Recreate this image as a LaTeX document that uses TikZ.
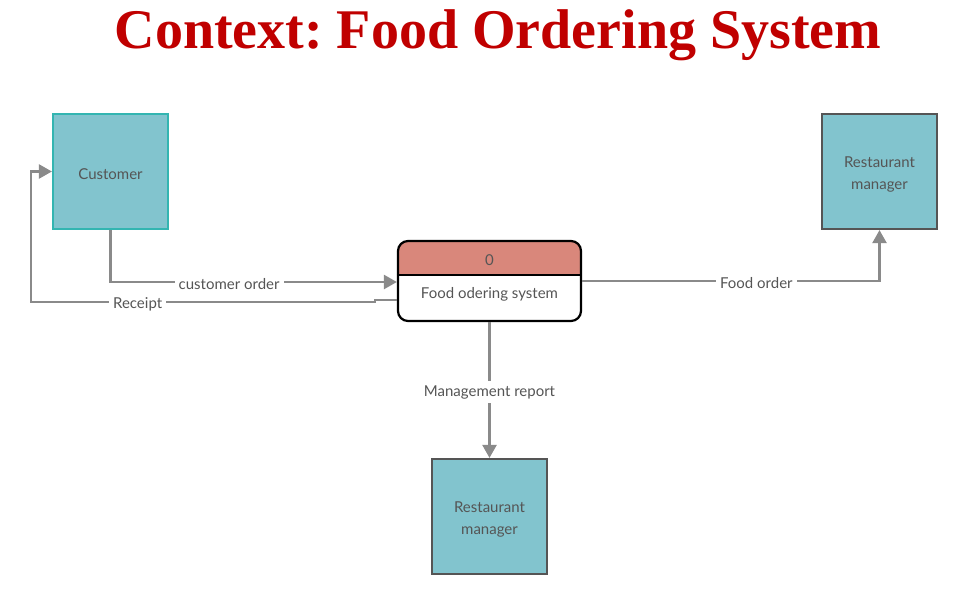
\documentclass[tikz,border=0pt]{standalone}
\usepackage{fontspec}
\setmainfont{Lato}
\newfontfamily\titlefont{Liberation Serif}
\usetikzlibrary{arrows.meta}
\frenchspacing
\definecolor{titlered}{HTML}{C00000}
\definecolor{boxfill}{HTML}{82C4CE}
\definecolor{custedge}{HTML}{33B5B1}
\definecolor{mgredge}{HTML}{555555}
\definecolor{headfill}{HTML}{D9877B}
\definecolor{flowgray}{HTML}{8A8A8A}
\definecolor{txtgray}{HTML}{555555}

\tikzset{
	entity/.style={draw=mgredge, line width=2.2pt, fill=boxfill, minimum width=115pt, minimum height=115pt},
	boxtext/.style={text=txtgray, align=center, font=\fontsize{15}{22}\selectfont},
	flow/.style={draw=flowgray, line width=2.4pt},
	flowlabel/.style={fill=white, text=txtgray, inner sep=4pt, yshift=-2pt, font=\fontsize{15}{17}\selectfont}
}

\begin{document}
\begin{tikzpicture}[x=1pt, y=-1pt, >={Triangle[length=13pt, width=14pt]}]
	\useasboundingbox (0,0) rectangle (963,604);
	%%%	Titolo
	\node[text=titlered, font=\titlefont\bfseries\fontsize{56}{60}\selectfont] (title) at (498,35) {Context: Food Ordering System};
	
	%%%	Entita'
	\node[entity, draw=custedge] (customer) at (110.5,171.5) {};
	\node[boxtext] (customertxt) at (110.5,174) {Customer};
	\node[entity] (mgrtop) at (879.5,171.5) {};
	\node[boxtext] (mgrtoptxt) at (879.5,174.5) {Restaurant\\manager};
	\node[entity] (mgrbot) at (489.5,516.5) {};
	\node[boxtext] (mgrbottxt) at (489.5,519) {Restaurant\\manager};
	
	%%%	Processo
	\fill[headfill] (398,275) [rounded corners=10pt] -- (398,241) -- (581,241) [sharp corners] -- (581,275) -- cycle;
	\node[draw, line width=2.2pt, rounded corners=10pt, minimum width=183pt, minimum height=80pt] (proc) at (489.5,281) {};
	\draw[line width=2.2pt] (proc.west |- 0,275) -- (proc.east |- 0,275);
	\node[boxtext] (procid) at (489.5,260) {0};
	\node[boxtext] (procname) at (489.5,294.5) {Food odering system};
	
	%%%	Flussi
	% customer order
	\draw[flow, ->] (customer.south) |- (proc.west |- 0,282) node[flowlabel, pos=0.707] {customer order};
	% Receipt
	\coordinate (rc1) at (375,300);
	\coordinate (rc2) at (31,302);
	\draw[flow, ->] (proc.west |- rc1) -- (rc1) -- (rc1 |- rc2) -- (rc2) node[flowlabel, pos=0.69] {Receipt} |- (customer.west);
	% Food order
	\draw[flow, ->] (proc.east |- 0,281) -| (mgrtop.south) node[flowlabel, pos=0.293] {Food order};
	% Management report
	\draw[flow, ->] (proc.south) -- (mgrbot.north) node[flowlabel, pos=0.5] {Management report};
	
\end{tikzpicture}
\end{document}
